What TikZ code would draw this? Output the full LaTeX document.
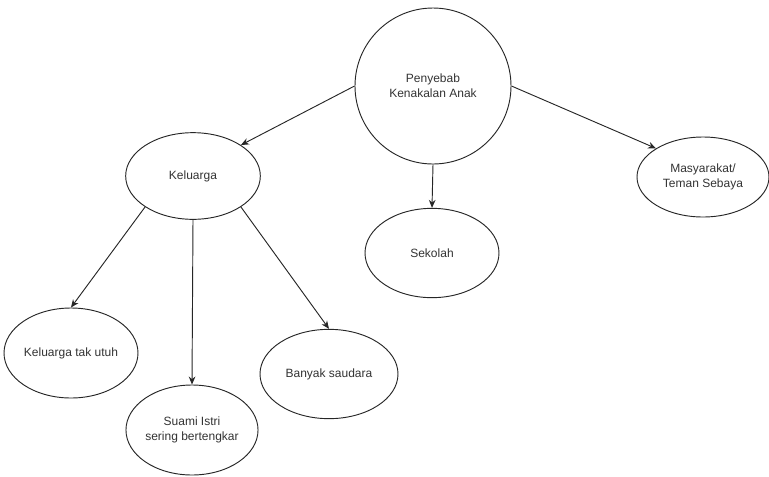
\documentclass[tikz,border=0pt]{standalone}
\usepackage{fontspec}
\setmainfont{Liberation Sans}
\usepackage{tikz}
\usetikzlibrary{arrows.meta}
\usetikzlibrary{shapes.geometric}

\tikzset{
  sebab/.style={ellipse, draw=black!85, line width=0.7pt, fill=white,
     inner sep=0pt, align=center, font=\fontsize{9}{11}\selectfont, text=black!80},
  panah/.style={-{Stealth[length=6pt, width=5pt]}, line width=0.7pt, black!85}
}

\begin{document}
\begin{tikzpicture}[x=0.75pt, y=-0.75pt]
         \useasboundingbox (0,0) rectangle (769,476);

         \node (pen) at (433,86) [circle, draw=black!85, line width=0.7pt,
            minimum size=117pt, inner sep=0pt, align=center,
            font=\fontsize{9}{11}\selectfont, text=black!80] {Penyebab\\Kenakalan Anak};
         \node (kel) at (193,176) [sebab, minimum width=101pt, minimum height=65pt] {Keluarga};
         \node (sek) at (432,253) [sebab, minimum width=100.5pt, minimum height=67pt] {Sekolah};
         \node (mas) at (703,177) [sebab, minimum width=99pt, minimum height=60pt] {Masyarakat/\\Teman Sebaya};
         \node (ktu) at (71,353) [sebab, minimum width=100.5pt, minimum height=67.5pt] {Keluarga tak utuh};
         \node (sua) at (192,430) [sebab, minimum width=99pt, minimum height=67.5pt] {Suami Istri\\sering bertengkar};
         \node (ban) at (329,374) [sebab, minimum width=103.5pt, minimum height=67pt] {Banyak saudara};

         \draw [panah] (pen.west) -- (kel.north east);
         \draw [panah] (pen.south) -- (sek.north);
         \draw [panah] (pen.east) -- (mas.north west);
         \draw [panah] (kel.south west) -- (ktu.north);
         \draw [panah] (kel.south) -- (sua.north);
         \draw [panah] (kel.south east) -- (ban.north);
      \end{tikzpicture}
\end{document}
